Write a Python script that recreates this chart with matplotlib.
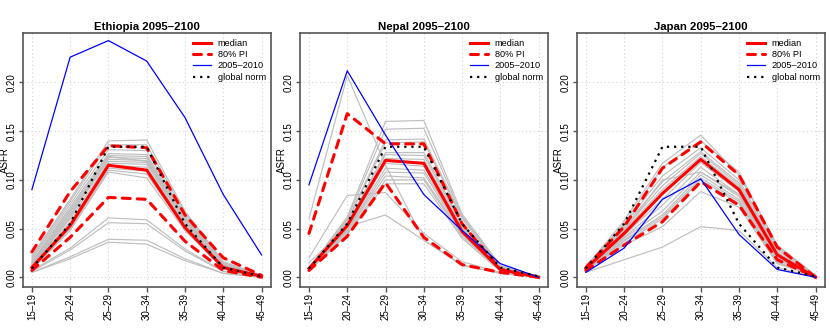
import matplotlib
matplotlib.use("Agg")
from matplotlib import pyplot as plt

plt.rcParams['font.family'] = ['Liberation Sans', 'DejaVu Sans']

age_groups = ["15\u201319", "20\u201324", "25\u201329", "30\u201334", "35\u201339", "40\u201344", "45\u201349"]
global_norm = [0.009, 0.055, 0.134, 0.134, 0.055, 0.010, 0.001]

# --- Ethiopia
eth_median = [0.010, 0.053, 0.115, 0.110, 0.051, 0.010, 0.001]
eth_pi_low = [0.007, 0.041, 0.082, 0.080, 0.037, 0.007, 0.000]
eth_pi_high = [0.026, 0.088, 0.135, 0.133, 0.064, 0.020, 0.002]
eth_obs = [0.090, 0.226, 0.243, 0.222, 0.164, 0.085, 0.023]
eth_traj = [
    [0.022, 0.080, 0.140, 0.141, 0.068, 0.016, 0.002],
    [0.020, 0.078, 0.136, 0.136, 0.066, 0.015, 0.002],
    [0.018, 0.075, 0.131, 0.130, 0.064, 0.014, 0.002],
    [0.016, 0.072, 0.127, 0.126, 0.062, 0.013, 0.002],
    [0.015, 0.070, 0.125, 0.124, 0.060, 0.013, 0.001],
    [0.014, 0.068, 0.123, 0.122, 0.059, 0.012, 0.001],
    [0.013, 0.066, 0.121, 0.120, 0.058, 0.012, 0.001],
    [0.012, 0.064, 0.119, 0.118, 0.057, 0.011, 0.001],
    [0.011, 0.060, 0.117, 0.116, 0.055, 0.011, 0.001],
    [0.010, 0.057, 0.115, 0.113, 0.054, 0.010, 0.001],
    [0.009, 0.054, 0.112, 0.109, 0.052, 0.010, 0.001],
    [0.009, 0.050, 0.110, 0.106, 0.050, 0.009, 0.001],
    [0.008, 0.048, 0.108, 0.102, 0.048, 0.009, 0.001],
    [0.012, 0.062, 0.124, 0.119, 0.061, 0.014, 0.002],
    [0.007, 0.030, 0.061, 0.059, 0.029, 0.006, 0.001],
    [0.006, 0.028, 0.056, 0.055, 0.027, 0.006, 0.001],
    [0.005, 0.021, 0.039, 0.038, 0.019, 0.004, 0.000],
    [0.005, 0.019, 0.036, 0.034, 0.017, 0.004, 0.000],
]

# --- Nepal
npl_median = [0.009, 0.053, 0.120, 0.117, 0.047, 0.008, 0.000]
npl_pi_low = [0.007, 0.042, 0.097, 0.041, 0.013, 0.005, 0.000]
npl_pi_high = [0.045, 0.168, 0.137, 0.137, 0.055, 0.008, 0.000]
npl_obs = [0.095, 0.212, 0.146, 0.085, 0.048, 0.014, 0.000]
npl_traj = [
    [0.009, 0.062, 0.160, 0.161, 0.065, 0.012, 0.001],
    [0.009, 0.060, 0.152, 0.153, 0.063, 0.011, 0.001],
    [0.010, 0.058, 0.141, 0.142, 0.062, 0.011, 0.001],
    [0.009, 0.057, 0.138, 0.139, 0.060, 0.010, 0.001],
    [0.009, 0.055, 0.128, 0.128, 0.055, 0.009, 0.000],
    [0.008, 0.054, 0.126, 0.125, 0.053, 0.009, 0.000],
    [0.009, 0.052, 0.122, 0.121, 0.051, 0.009, 0.000],
    [0.008, 0.050, 0.117, 0.114, 0.049, 0.008, 0.000],
    [0.008, 0.049, 0.112, 0.110, 0.047, 0.008, 0.000],
    [0.008, 0.048, 0.108, 0.107, 0.045, 0.008, 0.000],
    [0.008, 0.047, 0.104, 0.102, 0.044, 0.007, 0.000],
    [0.007, 0.045, 0.100, 0.100, 0.042, 0.007, 0.000],
    [0.007, 0.044, 0.096, 0.096, 0.040, 0.006, 0.000],
    [0.060, 0.207, 0.115, 0.038, 0.012, 0.004, 0.000],
    [0.020, 0.084, 0.087, 0.045, 0.016, 0.005, 0.000],
    [0.015, 0.052, 0.064, 0.038, 0.013, 0.004, 0.000],
]

# --- Japan
jpn_median = [0.009, 0.045, 0.086, 0.121, 0.090, 0.023, 0.000]
jpn_pi_low = [0.007, 0.033, 0.057, 0.098, 0.074, 0.018, 0.000]
jpn_pi_high = [0.010, 0.052, 0.112, 0.139, 0.105, 0.031, 0.000]
jpn_obs = [0.005, 0.030, 0.080, 0.101, 0.044, 0.008, 0.000]
jpn_traj = [
    [0.011, 0.058, 0.117, 0.146, 0.105, 0.033, 0.002],
    [0.010, 0.055, 0.113, 0.140, 0.108, 0.032, 0.002],
    [0.010, 0.054, 0.104, 0.133, 0.100, 0.030, 0.002],
    [0.010, 0.052, 0.098, 0.129, 0.097, 0.028, 0.001],
    [0.009, 0.050, 0.094, 0.127, 0.095, 0.026, 0.001],
    [0.009, 0.048, 0.090, 0.124, 0.093, 0.025, 0.001],
    [0.009, 0.046, 0.086, 0.122, 0.091, 0.024, 0.001],
    [0.008, 0.043, 0.080, 0.118, 0.088, 0.022, 0.001],
    [0.008, 0.041, 0.074, 0.113, 0.085, 0.020, 0.001],
    [0.008, 0.040, 0.068, 0.108, 0.083, 0.019, 0.001],
    [0.008, 0.038, 0.064, 0.105, 0.080, 0.018, 0.001],
    [0.007, 0.037, 0.062, 0.102, 0.078, 0.016, 0.001],
    [0.007, 0.035, 0.060, 0.100, 0.076, 0.015, 0.001],
    [0.007, 0.033, 0.052, 0.088, 0.072, 0.014, 0.001],
    [0.005, 0.018, 0.031, 0.052, 0.048, 0.010, 0.000],
    [0.009, 0.048, 0.100, 0.108, 0.085, 0.024, 0.001],
]

countries = [
    ("Ethiopia 2095\u20132100", eth_traj, eth_median, eth_pi_low, eth_pi_high, eth_obs),
    ("Nepal 2095\u20132100", npl_traj, npl_median, npl_pi_low, npl_pi_high, npl_obs),
    ("Japan 2095\u20132100", jpn_traj, jpn_median, jpn_pi_low, jpn_pi_high, jpn_obs),
]

W, H = 830, 332
fig = plt.figure(figsize=(W / 100, H / 100), dpi=100)
x = list(range(1, len(age_groups) + 1))
frame_col = '#555555'

for i, (title, traj, med, lo, hi, obs) in enumerate(countries):
  left = [22.7, 299.8, 576.7][i]
  ax = fig.add_axes([left / W, 45 / H, 248 / W, 253.7 / H])

  ax.grid(True, color='#d3d3d3', linestyle=(0, (1, 2.5)), linewidth=0.8)
  ax.set_axisbelow(True)

  for t in traj:
    ax.plot(x, t, color='#bebebe', linewidth=0.85)
  ax.plot(x, med, color='red', linewidth=2.2, label='median')
  ax.plot(x, lo, color='red', linewidth=2.2, dashes=(2.6, 2.3),
          dash_capstyle='round', label='80% PI')
  ax.plot(x, hi, color='red', linewidth=2.2, dashes=(2.6, 2.3),
          dash_capstyle='round')
  ax.plot(x, obs, color='blue', linewidth=0.9, label='2005\u20132010')
  ax.plot(x, global_norm, color='black', linewidth=1.6, dashes=(1, 2.2),
          label='global norm')

  ax.set_xlim(1 - 0.24, 7 + 0.24)
  ax.set_ylim(-0.0100, 0.2505)
  ax.set_xticks(x)
  ax.set_xticklabels(age_groups, rotation=90, fontsize=7)
  ax.set_yticks([0.0, 0.05, 0.10, 0.15, 0.20])
  ax.set_yticklabels(["0.00", "0.05", "0.10", "0.15", "0.20"],
                     rotation=90, va='center', fontsize=7)
  ax.tick_params(axis='x', direction='out', length=3.3, width=1.0,
                 color=frame_col, pad=1.2)
  ax.tick_params(axis='y', direction='out', length=3.0, width=1.0,
                 color=frame_col, pad=1.5)
  for sp in ax.spines.values():
    sp.set_color(frame_col)
    sp.set_linewidth(1.2)

  ax.set_title(title, fontsize=8.2, fontweight='bold', pad=2.5)
  ax.set_ylabel('ASFR', fontsize=7)
  ax.yaxis.set_label_coords(-0.050, 0.5)

  handles, labels = ax.get_legend_handles_labels()
  ax.legend(handles, labels, loc='upper left', bbox_to_anchor=(0.685, 0.978),
            frameon=False, fontsize=6.6, handlelength=2.05,
            handletextpad=0.7, labelspacing=0.25, borderpad=0,
            borderaxespad=0)

plt.savefig('out.png', dpi=100)
